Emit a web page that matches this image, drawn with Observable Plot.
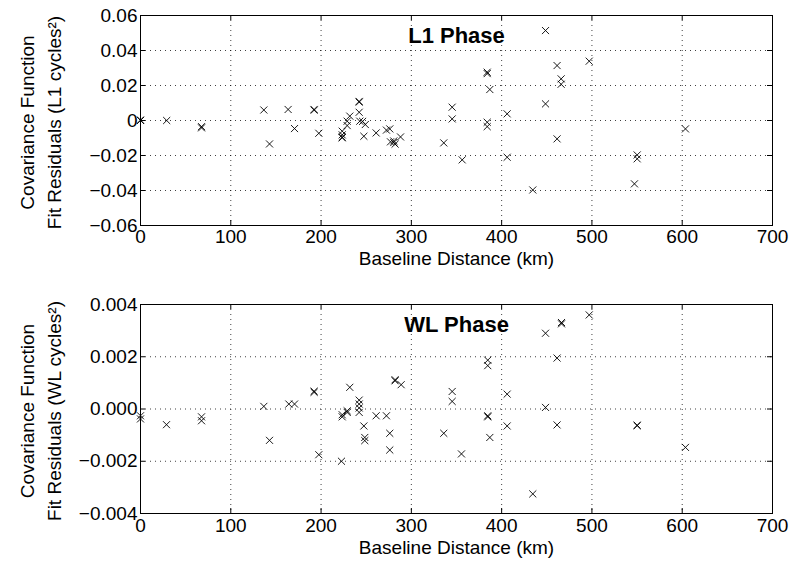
<!DOCTYPE html>
<html>
<head>
<meta charset="utf-8">
<script src="https://cdn.jsdelivr.net/npm/d3@7"></script>
<script src="https://cdn.jsdelivr.net/npm/@observablehq/plot@0.6"></script>
<style>
  body { margin: 0; background: #fff; }
  #chart { width: 792px; height: 563px; }
  #chart svg { display: block; }
</style>
</head>
<body>
<div id="chart"></div>
<script>
// ---- Data ----
const l1Distance = [0, 0, 29, 67.6, 67.6, 136.6, 142.9, 163.5, 170.6, 192.3, 192.3, 197.5,
  223.4, 223.4, 223.4, 223.4, 228.9, 228.9, 231.8, 242.2, 242.2, 242.2, 242.9, 246, 249,
  247.4, 261, 272.4, 276.1, 276.9, 280.5, 282, 280.5, 288, 335.9, 345.2, 345.2, 356.3,
  384, 384, 386.9, 384, 384, 406.1, 406.1, 434.5, 448.6, 448.6, 461.4, 461.4, 465.9,
  465.9, 497, 550.1, 550.1, 547.1, 603.6];
const l1Residual = [0, 0.0003, 0, -0.0035, -0.0042, 0.006, -0.0134, 0.0063, -0.0046, 0.0059, 0.0063, -0.0073,
  -0.0061, -0.0082, -0.0095, -0.0099, -0.0004, -0.0029, 0.0025, 0.0109, 0.0105, 0.0047, -0.0004, -0.0005, -0.0023,
  -0.009, -0.0071, -0.0055, -0.0048, -0.0122, -0.0126, -0.0135, -0.0117, -0.0094, -0.0128, 0.0076, 0.0009, -0.0225,
  0.0276, 0.0268, 0.0177, -0.001, -0.0035, 0.0038, -0.021, -0.0397, 0.0514, 0.0095, 0.0314, -0.0105, 0.0238,
  0.0207, 0.0339, -0.0197, -0.0219, -0.0362, -0.0048];

const wlDistance = [0, 0, 28.8, 67.6, 67.6, 136.6, 142.9, 164.3, 170.6, 192.3, 192.3, 197.5,
  222.6, 223.4, 223.4, 228.9, 228.9, 231.8, 242.2, 242.2, 242.2, 242.2, 247.4, 248.4, 248.4,
  261, 272.4, 276.1, 276.1, 282, 282, 288.7, 335.9, 345.2, 345.2, 355.5, 384.6, 384.6,
  384.6, 384.6, 386.9, 406.1, 406.1, 434.5, 448.6, 448.6, 461.4, 461.4, 466.3, 466.3,
  497, 550.1, 550.1, 603.6];
const wlResidual = [-0.00026, -0.00038, -0.0006, -0.0003, -0.00045, 0.0001, -0.0012, 0.00019, 0.00019, 0.00064, 0.00068, -0.00175,
  -0.002, -0.0003, -0.00022, -0.00013, -0.00007, 0.00083, 0.00034, 0.00019, 0.00004, -0.00013, -0.00065, -0.00109, -0.00121,
  -0.00026, -0.00026, -0.00093, -0.00157, 0.00108, 0.00112, 0.00093, -0.00093, 0.00067, 0.00029, -0.00172, 0.00187, 0.00166,
  -0.00026, -0.0003, -0.00109, 0.00057, -0.00065, -0.00325, 0.0029, 0.00006, 0.00195, -0.00061, 0.00331, 0.00326,
  0.0036, -0.00064, -0.00062, -0.00147];

const xTicks = [0, 100, 200, 300, 400, 500, 600, 700];
const l1Ticks = [-0.06, -0.04, -0.02, 0, 0.02, 0.04, 0.06];
const wlTicks = [-0.004, -0.002, 0, 0.002, 0.004];
const panelTitles = ["L1 Phase", "WL Phase"];
const xLabel = "Baseline Distance (km)";
const l1YLabel = ["Covariance Function", "Fit Residuals (L1 cycles²)"];
const wlYLabel = ["Covariance Function", "Fit Residuals (WL cycles²)"];

// ---- Panels ----
const FONT = "'Liberation Sans', Arial, Helvetica, sans-serif";

function panel({dist, resid, yTicks, yFormat, title, yLabel, height, marginTop, marginBottom, tickPad, xLabelDy}) {
  const points = dist.map((d, i) => ({d, r: resid[i]}));
  const frameH = height - marginTop - marginBottom;
  const frameW = 792 - 140 - 20;
  const tickLen = 5;
  return Plot.plot({
    width: 792,
    height,
    marginLeft: 140,
    marginRight: 20,
    marginTop,
    marginBottom,
    style: {fontFamily: FONT, fontSize: "19px", color: "#000", background: "#fff", overflow: "visible"},
    x: {domain: [xTicks[0], xTicks[xTicks.length - 1]]},
    y: {domain: [yTicks[0], yTicks[yTicks.length - 1]]},
    marks: [
      Plot.gridX(xTicks, {stroke: "#000", strokeOpacity: 0.75, strokeDasharray: "1,4"}),
      Plot.gridY(yTicks, {stroke: "#000", strokeOpacity: 0.75, strokeDasharray: "1,4"}),
      Plot.tickX(xTicks, {x: d => d, insetTop: frameH - tickLen, stroke: "#000"}),
      Plot.tickX(xTicks, {x: d => d, insetBottom: frameH - tickLen, stroke: "#000"}),
      Plot.tickY(yTicks, {y: d => d, insetRight: frameW - tickLen, stroke: "#000"}),
      Plot.tickY(yTicks, {y: d => d, insetLeft: frameW - tickLen, stroke: "#000"}),
      Plot.axisX(xTicks, {tickSize: 0, tickPadding: tickPad, tickFormat: d => String(d), label: null}),
      Plot.axisY(yTicks, {tickSize: 0, tickPadding: 3, tickFormat: yFormat, label: null}),
      Plot.dot(points, {x: "d", y: "r", symbol: "times", r: 3.3, stroke: "#000", strokeWidth: 0.9}),
      Plot.frame({stroke: "#000", strokeWidth: 1}),
      Plot.text([title], {frameAnchor: "top", dy: 12, lineAnchor: "top", textAnchor: "middle",
        fontWeight: "bold", fontSize: 22}),
      Plot.text([xLabel], {frameAnchor: "bottom", dy: xLabelDy, lineAnchor: "top", fontSize: 19}),
      Plot.text([yLabel.join("\n")], {frameAnchor: "left", rotate: -90, dx: -101.5, dy: 2,
        lineAnchor: "middle", textAnchor: "middle", lineHeight: 1.4, fontSize: 19})
    ]
  });
}

const fmtL1 = d => d === 0 ? "0" : d3.format(".2f")(d);
const fmtWL = d => d3.format(".3f")(d);

const chart = document.getElementById("chart");
chart.append(panel({
  dist: l1Distance, resid: l1Residual, yTicks: l1Ticks, yFormat: fmtL1,
  title: panelTitles[0], yLabel: l1YLabel,
  height: 290, marginTop: 15, marginBottom: 65, tickPad: 4, xLabelDy: 26
}));
chart.append(panel({
  dist: wlDistance, resid: wlResidual, yTicks: wlTicks, yFormat: fmtWL,
  title: panelTitles[1], yLabel: wlYLabel,
  height: 273, marginTop: 14, marginBottom: 50, tickPad: 5, xLabelDy: 27
}));
</script>
</body>
</html>
